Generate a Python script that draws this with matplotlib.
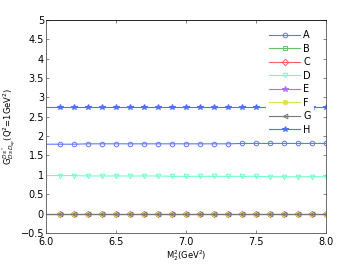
import numpy as np
import matplotlib.pyplot as plt

m2 = [6.1, 6.2, 6.3, 6.4, 6.5, 6.6, 6.7, 6.8, 6.9, 7.0,
      7.1, 7.2, 7.3, 7.4, 7.5, 7.6, 7.7, 7.8, 7.9, 8.0]
A = [1.79, 1.79, 1.80, 1.80, 1.80, 1.80, 1.80, 1.80, 1.80, 1.80,
     1.80, 1.80, 1.80, 1.81, 1.81, 1.81, 1.81, 1.81, 1.81, 1.81]
B = [0.0] * 20
C = [-0.01] * 20
D = [0.98, 0.98, 0.97, 0.97, 0.97, 0.97, 0.97, 0.97, 0.96, 0.96,
     0.96, 0.96, 0.96, 0.96, 0.96, 0.95, 0.95, 0.95, 0.95, 0.95]
E = [0.0] * 20
F = [0.0] * 20
G = [0.0] * 20
H = [2.75] * 20

names = ['A', 'B', 'C', 'D', 'E', 'F', 'G', 'H']
series = [A, B, C, D, E, F, G, H]
colors = ['#6078ff', '#66c066', '#ff6060', '#70ffc8', '#b070ff', '#e0e050', '#777777', '#5070ff']
markers = ['o', 's', 'D', 'v', '*', 'o', '<', '*']
fills = ['none', 'none', 'none', 'none', None, None, 'none', None]

fig = plt.figure(figsize=(3.6, 2.73), dpi=100)
ax = fig.add_axes([0.128, 0.147, 0.778, 0.78])

# lines start at 6.0, markers at data points
for n, s, c, m, f in zip(names, series, colors, markers, fills):
    xs = [6.0] + m2
    ys = [s[0]] + s
    ms = 3.3 if m != '*' else 3.8
    kw = dict(markerfacecolor=f) if f else {}
    ax.plot(xs, ys, color=c, lw=0.8, marker=m, markersize=ms, markevery=list(range(1, len(xs))),
            markeredgewidth=0.7, markeredgecolor=c, label=n, **kw)

ax.set_xlim(6.0, 8.0)
ax.set_ylim(-0.5, 5)
ax.set_xticks([6.0, 6.5, 7.0, 7.5, 8.0])
ax.set_xticklabels(['6.0', '6.5', '7.0', '7.5', '8.0'])
ax.set_yticks(np.arange(-0.5, 5.01, 0.5))
ax.set_yticklabels(['\u22120.5', '0', '0.5', '1', '1.5', '2', '2.5', '3', '3.5', '4', '4.5', '5'])
ax.tick_params(direction='in', labelsize=7, length=2.5, width=0.5, pad=1.5, top=True, right=True,
               color='#555555')
ax.tick_params(axis='x', pad=3)
for sp in ax.spines.values():
    sp.set_linewidth(0.6)
    sp.set_color('#555555')
ax.spines['top'].set_color('black')

ax.set_xlabel('M$_2^2$(GeV$^2$)', fontsize=6, labelpad=1)
ax.set_ylabel('G$^{Ds^*}_{Ds\\,D_{sp}}$(Q$^2$=1GeV$^2$)', fontsize=6, labelpad=2)

leg = ax.legend(loc='upper right', bbox_to_anchor=(0.955, 0.965), frameon=True, fontsize=7,
                handlelength=3.2, labelspacing=0.36, borderpad=0.3, handletextpad=0.3,
                borderaxespad=0, fancybox=False)
leg.get_frame().set_edgecolor('white')
leg.get_frame().set_linewidth(0)
leg.get_frame().set_alpha(1)

fig.savefig('out.png', dpi=100)
